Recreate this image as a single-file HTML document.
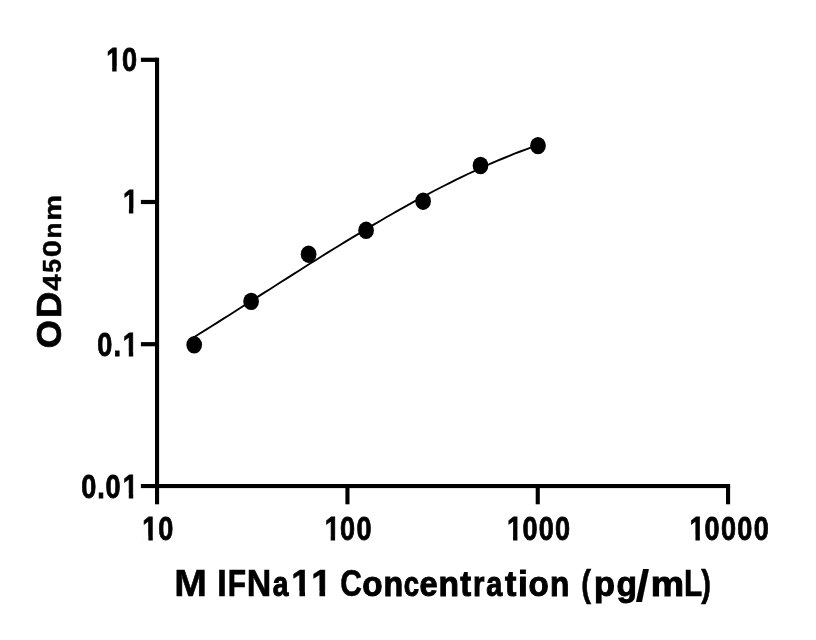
<!DOCTYPE html>
<html><head><meta charset="utf-8"><title>M IFNa11 standard curve</title>
<style>
html,body{margin:0;padding:0;background:#fff;overflow:hidden;}
svg{display:block;will-change:transform;}
text{font-family:"Liberation Sans",sans-serif;font-weight:bold;fill:#000;font-kerning:none;stroke-linejoin:miter;}
</style></head>
<body>
<svg width="816" height="640" viewBox="0 0 816 640">
<rect width="816" height="640" fill="#fff"/>
<g fill="#000">
<rect x="155.0" y="57.7" width="4.1" height="446.60"/>
<rect x="140.9" y="484.0" width="589.20" height="4.1"/>
<rect x="140.9" y="57.70" width="16" height="4.2"/>
<rect x="140.9" y="199.90" width="16" height="4.2"/>
<rect x="140.9" y="342.10" width="16" height="4.2"/>
<rect x="345.40" y="486" width="4.1" height="18.30"/>
<rect x="535.70" y="486" width="4.1" height="18.30"/>
<rect x="726.00" y="486" width="4.1" height="18.30"/>
</g>
<g>
<text transform="translate(0,540) scale(0.835,1)" font-size="32.5" stroke="#000" stroke-width="0.8" x="170.51 189.45" y="0">10</text>
<text transform="translate(0,540) scale(0.835,1)" font-size="32.5" stroke="#000" stroke-width="0.8" x="388.87 407.27 426.85" y="0">100</text>
<text transform="translate(0,540) scale(0.835,1)" font-size="32.5" stroke="#000" stroke-width="0.8" x="607.26 625.66 645.24 664.82" y="0">1000</text>
<text transform="translate(0,540) scale(0.835,1)" font-size="32.5" stroke="#000" stroke-width="0.8" x="825.70 843.86 863.44 883.02 902.60" y="0">10000</text>
<text transform="translate(0,71) scale(0.835,1)" font-size="32.5" stroke="#000" stroke-width="0.8" x="127.20 146.14" y="0">10</text>
<text transform="translate(0,213) scale(0.835,1)" font-size="32.5" stroke="#000" stroke-width="0.8" x="147.20" y="0">1</text>
<text transform="translate(0,356) scale(0.835,1)" font-size="32.5" stroke="#000" stroke-width="0.8" x="116.62 135.86 147.08" y="0">0.1</text>
<text transform="translate(0,498) scale(0.835,1)" font-size="32.5" stroke="#000" stroke-width="0.8" x="97.21 116.34 126.44 147.08" y="0">0.01</text>
</g>
<g>
<text y="596" stroke="#000"><tspan x="174.29" font-size="37.5" stroke-width="0.6" textLength="32.61" lengthAdjust="spacingAndGlyphs">M</tspan> <tspan x="216.90" font-size="37.5" stroke-width="0.6" textLength="9.90" lengthAdjust="spacingAndGlyphs">I</tspan><tspan x="227.68" font-size="37.5" stroke-width="0.6" textLength="18.33" lengthAdjust="spacingAndGlyphs">F</tspan><tspan x="246.80" font-size="37.5" stroke-width="0.6" textLength="24.52" lengthAdjust="spacingAndGlyphs">N</tspan><tspan x="272.78" font-size="34.5" stroke-width="1.0" textLength="15.73" lengthAdjust="spacingAndGlyphs">a</tspan><tspan x="291.32" font-size="37.5" stroke-width="0.6" textLength="20.10" lengthAdjust="spacingAndGlyphs">1</tspan><tspan x="311.18" font-size="37.5" stroke-width="0.6" textLength="20.45" lengthAdjust="spacingAndGlyphs">1</tspan> <tspan x="340.16" font-size="37.5" stroke-width="0.6" textLength="21.67" lengthAdjust="spacingAndGlyphs">C</tspan><tspan x="362.28" font-size="34.5" stroke-width="1.0" textLength="20.34" lengthAdjust="spacingAndGlyphs">o</tspan><tspan x="383.54" font-size="34.5" stroke-width="1.0" textLength="19.69" lengthAdjust="spacingAndGlyphs">n</tspan><tspan x="403.79" font-size="34.5" stroke-width="1.0" textLength="15.35" lengthAdjust="spacingAndGlyphs">c</tspan><tspan x="419.60" font-size="34.5" stroke-width="1.0" textLength="18.04" lengthAdjust="spacingAndGlyphs">e</tspan><tspan x="438.57" font-size="34.5" stroke-width="1.0" textLength="20.52" lengthAdjust="spacingAndGlyphs">n</tspan><tspan x="460.27" font-size="34.5" stroke-width="1.0" textLength="10.85" lengthAdjust="spacingAndGlyphs">t</tspan><tspan x="472.99" font-size="34.5" stroke-width="1.0" textLength="11.43" lengthAdjust="spacingAndGlyphs">r</tspan><tspan x="486.17" font-size="34.5" stroke-width="1.0" textLength="16.03" lengthAdjust="spacingAndGlyphs">a</tspan><tspan x="505.08" font-size="34.5" stroke-width="1.0" textLength="11.34" lengthAdjust="spacingAndGlyphs">t</tspan><tspan x="518.04" font-size="34.5" stroke-width="1.0" textLength="9.86" lengthAdjust="spacingAndGlyphs">i</tspan><tspan x="528.49" font-size="34.5" stroke-width="1.0" textLength="20.23" lengthAdjust="spacingAndGlyphs">o</tspan><tspan x="549.97" font-size="34.5" stroke-width="1.0" textLength="19.33" lengthAdjust="spacingAndGlyphs">n</tspan> <tspan x="581.13" font-size="36.5" stroke-width="0.6" textLength="9.72" lengthAdjust="spacingAndGlyphs">(</tspan><tspan x="593.93" font-size="34.5" stroke-width="1.0" textLength="20.98" lengthAdjust="spacingAndGlyphs">p</tspan><tspan x="616.51" font-size="34.5" stroke-width="1.0" textLength="20.44" lengthAdjust="spacingAndGlyphs">g</tspan><tspan x="635.50" dy="5.4" font-size="43.5" stroke-width="0.1" textLength="13.90" lengthAdjust="spacingAndGlyphs">/</tspan><tspan x="650.67" dy="-5.4" font-size="34.5" stroke-width="1.0" textLength="33.31" lengthAdjust="spacingAndGlyphs">m</tspan><tspan x="683.95" font-size="37.5" stroke-width="0.6" textLength="18.33" lengthAdjust="spacingAndGlyphs">L</tspan><tspan x="701.20" font-size="36.5" stroke-width="0.6" textLength="9.72" lengthAdjust="spacingAndGlyphs">)</tspan></text>
</g>
<g fill="#fff">
<rect x="143.05" y="535.58" width="5.32" height="7.32"/>
<rect x="152.77" y="535.58" width="4.98" height="7.32"/>
<rect x="325.38" y="535.58" width="5.32" height="7.32"/>
<rect x="335.10" y="535.58" width="4.98" height="7.32"/>
<rect x="507.73" y="535.58" width="5.32" height="7.32"/>
<rect x="517.45" y="535.58" width="4.98" height="7.32"/>
<rect x="690.13" y="535.58" width="5.32" height="7.32"/>
<rect x="699.85" y="535.58" width="4.98" height="7.32"/>
<rect x="106.88" y="66.58" width="5.32" height="7.32"/>
<rect x="116.60" y="66.58" width="4.98" height="7.32"/>
<rect x="123.58" y="208.58" width="5.32" height="7.32"/>
<rect x="133.30" y="208.58" width="4.98" height="7.32"/>
<rect x="123.48" y="351.58" width="5.32" height="7.32"/>
<rect x="133.20" y="351.58" width="4.98" height="7.32"/>
<rect x="123.48" y="493.58" width="5.32" height="7.32"/>
<rect x="133.20" y="493.58" width="4.98" height="7.32"/>
<rect x="292.61" y="591.17" width="6.86" height="7.63"/>
<rect x="305.00" y="591.17" width="6.40" height="7.63"/>
<rect x="312.50" y="591.17" width="6.96" height="7.63"/>
<rect x="325.10" y="591.17" width="6.50" height="7.63"/>
</g>
<g>
<text transform="translate(61.3,347.5) rotate(-90)" y="0" stroke="#000"><tspan x="-0.72" font-size="34.4" stroke-width="0.7" textLength="28.28" lengthAdjust="spacingAndGlyphs">O</tspan><tspan x="29.43" font-size="34.4" stroke-width="0.7" textLength="26.33" lengthAdjust="spacingAndGlyphs">D</tspan><tspan x="56.77" font-size="26.6" stroke-width="0.4" textLength="16.46" lengthAdjust="spacingAndGlyphs">4</tspan><tspan x="74.73" font-size="26.6" stroke-width="0.4" textLength="13.67" lengthAdjust="spacingAndGlyphs">5</tspan><tspan x="90.31" font-size="26.6" stroke-width="0.4" textLength="17.23" lengthAdjust="spacingAndGlyphs">0</tspan><tspan x="108.94" font-size="24.6" stroke-width="0.5" textLength="15.96" lengthAdjust="spacingAndGlyphs">n</tspan><tspan x="126.84" font-size="24.6" stroke-width="0.5" textLength="25.71" lengthAdjust="spacingAndGlyphs">m</tspan></text>
</g>
<path d="M194.0,337.2 L199.8,333.5 L205.7,329.9 L211.5,326.2 L217.3,322.6 L223.1,318.9 L229.0,315.2 L234.8,311.5 L240.6,307.8 L246.4,304.1 L252.3,300.4 L258.1,296.6 L263.9,292.9 L269.8,289.2 L275.6,285.5 L281.4,281.8 L287.2,278.1 L293.1,274.4 L298.9,270.7 L304.7,267.0 L310.5,263.3 L316.4,259.7 L322.2,256.0 L328.0,252.4 L333.9,248.8 L339.7,245.2 L345.5,241.6 L351.3,238.1 L357.2,234.6 L363.0,231.1 L368.8,227.6 L374.6,224.1 L380.5,220.7 L386.3,217.3 L392.1,214.0 L397.9,210.7 L403.8,207.4 L409.6,204.1 L415.4,200.9 L421.3,197.8 L427.1,194.6 L432.9,191.5 L438.7,188.5 L444.6,185.5 L450.4,182.6 L456.2,179.7 L462.0,176.8 L467.9,174.0 L473.7,171.3 L479.5,168.6 L485.4,166.0 L491.2,163.4 L497.0,160.9 L502.8,158.5 L508.7,156.1 L514.5,153.7 L520.3,151.5 L526.1,149.3 L532.0,147.2 L537.8,145.1" fill="none" stroke="#000" stroke-width="1.9" stroke-linecap="round" stroke-linejoin="round"/>
<g fill="#000">
<ellipse cx="194.2" cy="344.8" rx="7.85" ry="8.7"/>
<ellipse cx="251.1" cy="301.4" rx="7.85" ry="8.7"/>
<ellipse cx="308.6" cy="254.2" rx="7.85" ry="8.7"/>
<ellipse cx="366.1" cy="230.3" rx="7.85" ry="8.7"/>
<ellipse cx="423.1" cy="201.2" rx="7.85" ry="8.7"/>
<ellipse cx="480.5" cy="165.5" rx="7.85" ry="8.7"/>
<ellipse cx="538.0" cy="145.6" rx="7.85" ry="8.7"/>
</g>
</svg>
</body></html>
